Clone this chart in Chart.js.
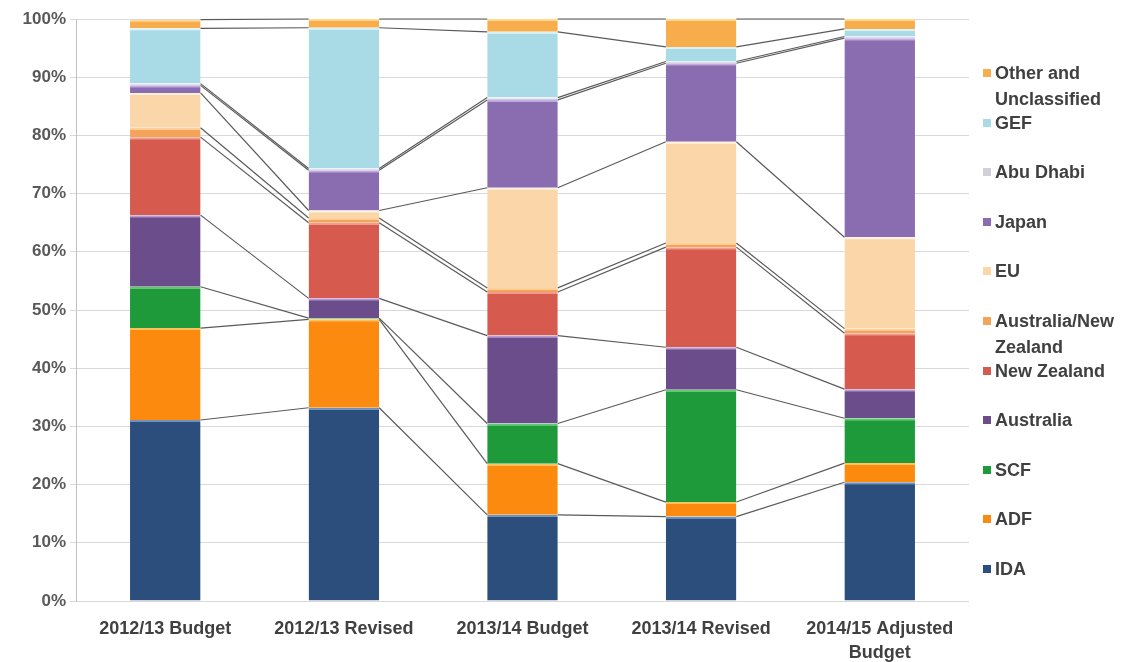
<html>
    <head>
        <meta charset="UTF-8">
        <script src="https://cdn.jsdelivr.net/npm/chart.js@4.4.1/dist/chart.umd.min.js"></script>
        <style>
            body { margin:0; background:#ffffff; font-family:"Liberation Sans", Arial, sans-serif; }
            .chart-wrap { position:relative; width:1129px; height:662px; }
            .legend { position:absolute; left:980px; top:60px; width:149px; }
            .legend-item { height:49.6px; position:relative; }
            .legend-box { position:absolute; left:3px; top:9px; width:8px; height:8px; }
            .legend-text { position:absolute; left:15px; top:0; font-weight:bold; font-size:18px; line-height:26px; color:#404040; white-space:nowrap; }
        </style>
        <script>
            // categories and values (% share)
            var categories = ["2012/13 Budget", "2012/13 Revised", "2013/14 Budget", "2013/14 Revised", ["2014/15 Adjusted", "Budget"]];
            var yTicks = [0, 10, 20, 30, 40, 50, 60, 70, 80, 90, 100];

            var ida       = [31.1, 33.2, 14.8, 14.5, 20.4];
            var adf       = [15.8, 15.2,  8.8,  2.5,  3.3];
            var scf       = [ 7.1,  0.2,  6.9, 19.3,  7.7];
            var australia = [12.3,  3.4, 15.1,  7.3,  5.0];
            var newZealand= [13.4, 13.0,  7.5, 17.2,  9.6];
            var ausNz     = [ 1.6,  0.8,  0.7,  0.7,  0.8];
            var eu        = [ 6.0,  1.3, 17.2, 17.4, 15.7];
            var japan     = [ 1.3,  6.9, 15.1, 13.5, 34.2];
            var abuDhabi  = [ 0.3,  0.3,  0.4,  0.3,  0.3];
            var gef       = [ 9.5, 24.2, 11.3,  2.5,  1.3];
            var other     = [ 1.5,  1.5,  2.2,  4.8,  1.7];

            var seriesNames = ["IDA", "ADF", "SCF", "Australia", "New Zealand", "Australia/New Zealand", "EU", "Japan", "Abu Dhabi", "GEF", "Other and Unclassified"];
            var seriesData = [ida, adf, scf, australia, newZealand, ausNz, eu, japan, abuDhabi, gef, other];

            var fillColors = ['#2c4e7c', '#fb8a0f', '#1f9a3a', '#6c4d8c', '#d65a4e', '#f6a35a', '#fad6a8', '#8a6cb0', '#cfd0dc', '#a8dbe6', '#f7ad4c'];
            var topColors  = ['#6f92bd', '#ffc15a', '#5ccb6a', '#b79ad4', '#f29a8c', '#ffd09a', '#fff0dc', '#c2a9e2', '#eef0f6', '#d8f2f8', '#ffd88e'];
            var legendLabels = [["IDA"], ["ADF"], ["SCF"], ["Australia"], ["New Zealand"], ["Australia/New", "Zealand"], ["EU"], ["Japan"], ["Abu Dhabi"], ["GEF"], ["Other and", "Unclassified"]];

            // excel style series lines between the bars
            var seriesLines = {
                id: 'seriesLines',
                afterDatasetsDraw: function(chart){
                    var ctx = chart.ctx;
                    ctx.save();
                    ctx.strokeStyle = '#5a5a5a';
                    ctx.lineWidth = 1.2;
                    for(var k = 0; k < chart.data.datasets.length; k++){
                        var meta = chart.getDatasetMeta(k);
                        for(var i = 0; i < meta.data.length - 1; i++){
                            var a = meta.data[i], b = meta.data[i+1];
                            ctx.beginPath();
                            ctx.moveTo(a.x + a.width/2, a.y);
                            ctx.lineTo(b.x - b.width/2, b.y);
                            ctx.stroke();
                        }
                    }
                    ctx.restore();
                }
            };

            function buildLegend(){
                var box = document.getElementById('legend');
                for(var k = seriesNames.length - 1; k >= 0; k--){
                    var item = document.createElement('div');
                    item.className = 'legend-item';
                    var sq = document.createElement('div');
                    sq.className = 'legend-box';
                    sq.style.background = fillColors[k];
                    var txt = document.createElement('div');
                    txt.className = 'legend-text';
                    txt.innerHTML = legendLabels[k].join('<br>');
                    item.appendChild(sq);
                    item.appendChild(txt);
                    box.appendChild(item);
                }
            }

            window.onload = function(){
                var datasets = [];
                for(var k = 0; k < seriesData.length; k++){
                    datasets.push({
                        label: seriesNames[k],
                        data: seriesData[k],
                        backgroundColor: fillColors[k],
                        borderColor: topColors[k],
                        borderWidth: {top: 2, right: 0, bottom: 0, left: 0},
                        borderSkipped: 'start',
                        barPercentage: 1.0,
                        categoryPercentage: 0.395
                    });
                }

                var ctx = document.getElementById('shareChart').getContext('2d');
                new Chart(ctx, {
                    type: 'bar',
                    data: { labels: categories, datasets: datasets },
                    plugins: [seriesLines],
                    options: {
                        responsive: true,
                        maintainAspectRatio: false,
                        animation: false,
                        layout: { padding: { top: 19, right: 160, left: 0, bottom: 0 } },
                        plugins: { legend: { display: false }, tooltip: { enabled: false } },
                        scales: {
                            x: {
                                stacked: true,
                                grid: { display: false, drawTicks: false },
                                border: { display: false },
                                ticks: {
                                    color: '#404040',
                                    padding: 16,
                                    maxRotation: 0,
                                    font: { family: '"Liberation Sans", Arial, sans-serif', size: 18, weight: 'bold', lineHeight: 1.35 }
                                },
                                afterFit: function(s){ s.height = 61; }
                            },
                            y: {
                                stacked: true,
                                min: 0,
                                max: 100,
                                afterBuildTicks: function(s){ s.ticks = yTicks.map(function(v){ return {value: v}; }); },
                                grid: { color: '#d9d9d9', lineWidth: 1, tickLength: 6 },
                                border: { display: true, color: '#bfbfbf' },
                                ticks: {
                                    color: '#595959',
                                    padding: 4,
                                    font: { family: '"Liberation Sans", Arial, sans-serif', size: 17, weight: 'bold' },
                                    callback: function(v){ return v + '%'; }
                                },
                                afterFit: function(s){ s.width = 76; }
                            }
                        }
                    }
                });
                buildLegend();
            };
        </script>
    </head>
    <body>
        <div class="chart-wrap">
            <canvas id="shareChart"></canvas>
            <div class="legend" id="legend"></div>
        </div>
    </body>
</html>
